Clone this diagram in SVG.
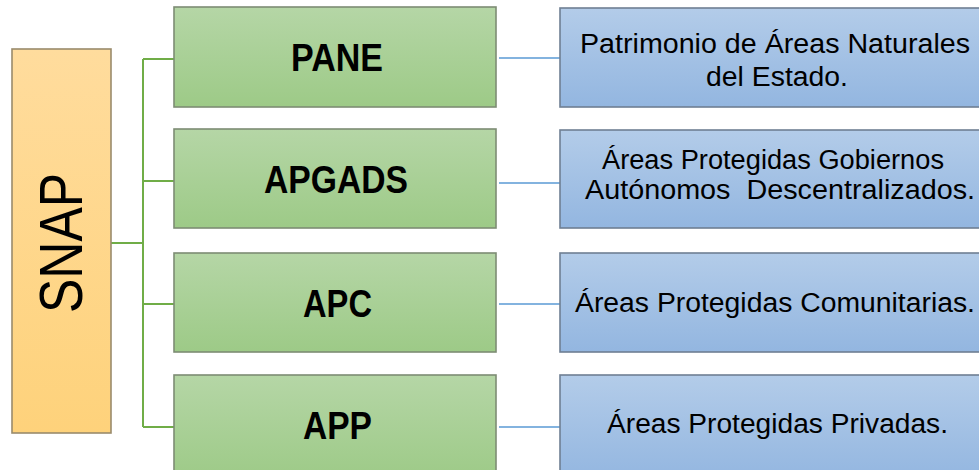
<svg xmlns="http://www.w3.org/2000/svg" width="979" height="470" viewBox="0 0 979 470">
<style>
  .g { fill: url(#gGreen); stroke: #7d8c74; stroke-width: 1.6; }
  .b { fill: url(#gBlue); stroke: #6f7f93; stroke-width: 1.6; }
  .o { fill: url(#gOrange); stroke: #9a8b6c; stroke-width: 1.6; }
  .gt { font-family: "Liberation Sans", Arial, sans-serif; font-weight: bold; font-size: 39px; fill: #000; }
  .bt { font-family: "Liberation Sans", Arial, sans-serif; font-size: 27px; fill: #000; white-space: pre; }
  .cg { stroke: #70ad47; stroke-width: 2; fill: none; }
  .cb { stroke: #5b9bd5; stroke-width: 1.6; fill: none; }
</style>
<defs>
  <linearGradient id="gGreen" x1="0" y1="0" x2="0" y2="1">
    <stop offset="0" stop-color="#b5d6a6"/>
    <stop offset="1" stop-color="#9dca87"/>
  </linearGradient>
  <linearGradient id="gBlue" x1="0" y1="0" x2="0" y2="1">
    <stop offset="0" stop-color="#b3cce9"/>
    <stop offset="1" stop-color="#93b6e0"/>
  </linearGradient>
  <linearGradient id="gOrange" x1="0" y1="0" x2="0" y2="1">
    <stop offset="0" stop-color="#ffdc9d"/>
    <stop offset="1" stop-color="#fed27b"/>
  </linearGradient>
</defs>
<rect width="979" height="470" fill="#ffffff"/>

<g id="connectors">
  <path class="cg" d="M111 243 H143 M143 59 V427 M143 59 H174 M143 181 H174 M143 304 H174 M143 427 H174"/>
  <path class="cb" d="M499 58 H560 M499 183 H560 M499 304 H560 M499 427 H560"/>
</g>

<g id="snap">
  <rect class="o" x="12" y="49" width="99" height="384"/>
  <text transform="translate(82,243) rotate(-90)" text-anchor="middle" font-family="Liberation Sans, Arial, sans-serif" font-size="61" textLength="140" lengthAdjust="spacingAndGlyphs" fill="#000">SNAP</text>
</g>

<g id="pane">
  <rect class="g" x="174" y="7" width="322" height="100"/>
  <text class="gt" x="291" y="71" textLength="92" lengthAdjust="spacingAndGlyphs">PANE</text>
</g>
<g id="apgads">
  <rect class="g" x="174" y="129" width="322" height="99"/>
  <text class="gt" x="264" y="193" textLength="144" lengthAdjust="spacingAndGlyphs">APGADS</text>
</g>
<g id="apc">
  <rect class="g" x="174" y="253" width="322" height="99"/>
  <text class="gt" x="303" y="317" textLength="69" lengthAdjust="spacingAndGlyphs">APC</text>
</g>
<g id="app">
  <rect class="g" x="174" y="375" width="322" height="105"/>
  <text class="gt" x="303" y="439" textLength="69" lengthAdjust="spacingAndGlyphs">APP</text>
</g>

<g id="pane-desc">
  <rect class="b" x="560" y="8" width="425" height="99"/>
  <text class="bt" x="580" y="53" textLength="390" lengthAdjust="spacingAndGlyphs">Patrimonio de Áreas Naturales</text>
  <text class="bt" x="706" y="86" textLength="142" lengthAdjust="spacingAndGlyphs">del Estado.</text>
</g>
<g id="apgads-desc">
  <rect class="b" x="560" y="130" width="425" height="98"/>
  <text class="bt" x="602" y="169" textLength="342" lengthAdjust="spacingAndGlyphs">Áreas Protegidas Gobiernos</text>
  <text class="bt" x="585" y="199" textLength="390" lengthAdjust="spacingAndGlyphs">Autónomos  Descentralizados.</text>
</g>
<g id="apc-desc">
  <rect class="b" x="560" y="253" width="425" height="99"/>
  <text class="bt" x="575" y="312" textLength="400" lengthAdjust="spacingAndGlyphs">Áreas Protegidas Comunitarias.</text>
</g>
<g id="app-desc">
  <rect class="b" x="560" y="375" width="425" height="105"/>
  <text class="bt" x="607" y="433" textLength="341" lengthAdjust="spacingAndGlyphs">Áreas Protegidas Privadas.</text>
</g>
</svg>
